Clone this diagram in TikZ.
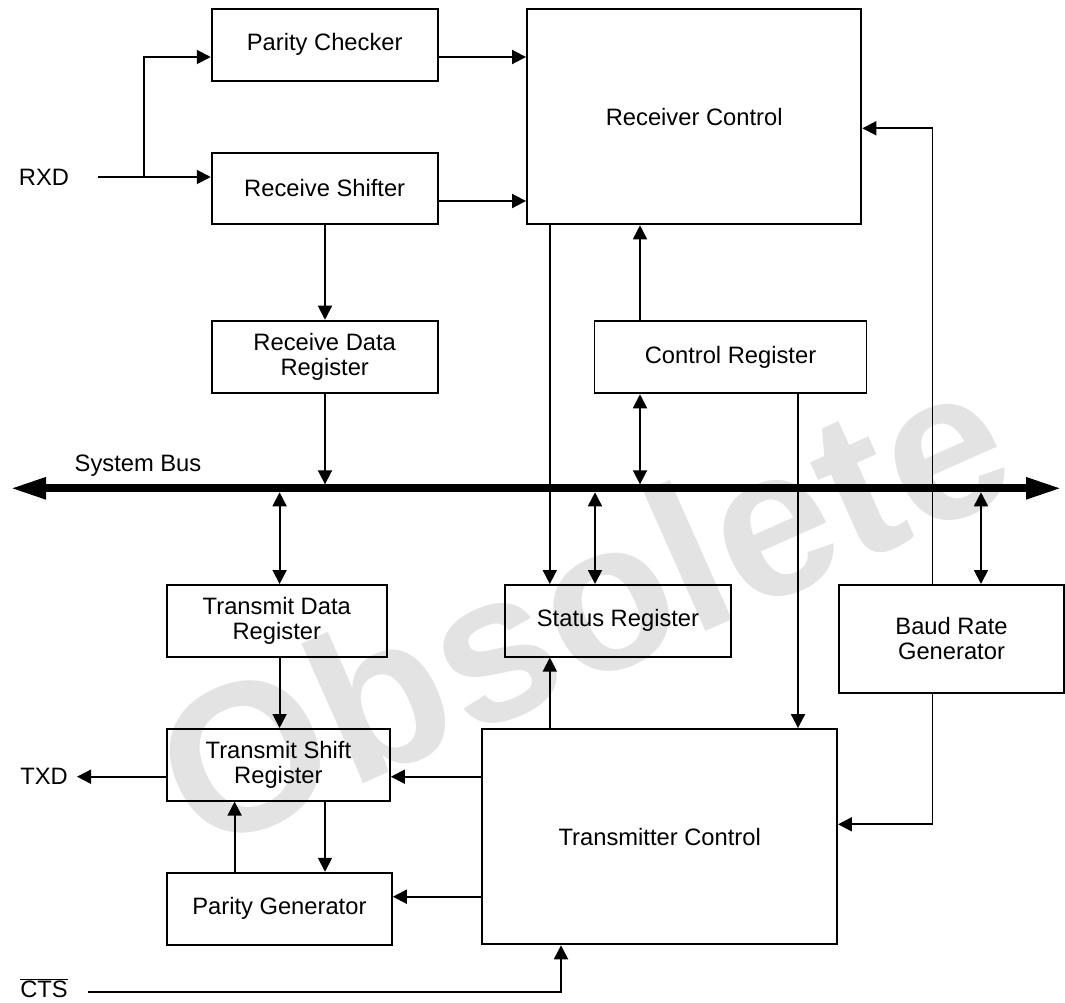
\documentclass[tikz,border=0pt]{standalone}
\usepackage{fontspec}
\setmainfont{Liberation Sans}
\usetikzlibrary{arrows.meta}
\begin{document}
\begin{tikzpicture}[x=0.75pt,y=-0.75pt,
  box/.style={draw, line width=1.4pt, inner sep=0pt, align=center,
    font=\fontsize{17.8}{19}\selectfont},
  lbl/.style={inner sep=0pt, font=\fontsize{17.8}{19}\selectfont},
  tipA/.tip={Triangle[length=10.5pt,width=10.5pt]},
  conn/.style={line width=1.4pt, -tipA},
  bidir/.style={line width=1.4pt, tipA-tipA}]
\useasboundingbox (0,0) rectangle (1065,1003);
% watermark
\node[rotate=24, inner sep=0pt, text=black!11,
  font=\fontsize{158}{158}\selectfont\bfseries] (wm) at (582,604) {Obsolete};
% boxes
\node[box, minimum width=169.5pt, minimum height=53.8pt] (PC) at (324.7,44.8) {Parity Checker};
\node[box, minimum width=169.5pt, minimum height=53.8pt] (RS) at (324.7,188.5) {Receive Shifter};
\node[box, minimum width=169.5pt, minimum height=54.5pt] (RDR) at (324.7,357) {Receive Data\\Register};
\node[box, minimum width=250.8pt, minimum height=161.5pt] (RC) at (694.2,116.7) {Receiver Control};
\node[box, minimum width=204pt, minimum height=54.5pt] (CR) at (730.5,357) {Control Register};
\node[box, minimum width=165pt, minimum height=53.8pt] (TDR) at (276.8,620.8) {Transmit Data\\Register};
\node[box, minimum width=167.3pt, minimum height=53.8pt] (TSR) at (278.4,764.8) {Transmit Shift\\Register};
\node[box, minimum width=168.8pt, minimum height=54pt] (PG) at (279.4,908.7) {Parity Generator};
\node[box, minimum width=169.8pt, minimum height=53.8pt] (SR) at (618,620.8) {Status Register};
\node[box, minimum width=168.5pt, minimum height=80.8pt] (BRG) at (951.5,638.8) {Baud Rate\\Generator};
\node[box, minimum width=266pt, minimum height=161.5pt] (TC) at (659.7,836.7) {Transmitter Control};
% labels
\node[lbl] (rxd) at (44,177) {RXD};
\node[lbl] (txd) at (44,776) {TXD};
\node[lbl] (cts) at (44,988) {$\overline{\hbox{CTS}}$};
\node[lbl] (sysbus) at (138,466) {System Bus};
% helper coordinates
\coordinate (busL) at (10,488.3);
\coordinate (busR) at (1062,488.3);
\coordinate (busT) at (0,484.3);
\coordinate (busB) at (0,492.3);
\coordinate (y57) at (0,57);
\coordinate (y201) at (0,201);
\coordinate (y128) at (0,128.3);
\coordinate (y824) at (0,824.3);
\coordinate (y777) at (0,776.7);
\coordinate (y897) at (0,896.7);
\coordinate (x280) at (279.6,0);
\coordinate (x235) at (234.6,0);
\coordinate (x325) at (325,0);
\coordinate (x550) at (549.8,0);
\coordinate (x595) at (595,0);
\coordinate (x640) at (640,0);
\coordinate (x798) at (798,0);
\coordinate (x932) at (932.5,0);
\coordinate (x981) at (981,0);
\coordinate (x561) at (561,0);
\coordinate (rxdS) at (98,177);
\coordinate (br) at (144,177);
\coordinate (txdE) at (77,776.7);
\coordinate (ctsS) at (87.5,992.3);
% bus
\draw[line width=6pt, {Triangle[length=27pt,width=15pt]}-{Triangle[length=27pt,width=15pt]}] (busL) -- (busR);
% receive side
\draw[conn] (rxdS) -- (RS.west |- rxdS);
\draw[conn] (br) |- (PC.west |- y57);
\draw[conn] (PC.east |- y57) -- (RC.west |- y57);
\draw[conn] (RS.east |- y201) -- (RC.west |- y201);
\draw[conn] (RS.south -| x325) -- (RDR.north -| x325);
\draw[conn] (RDR.south -| x325) -- (x325 |- busT);
% control register
\draw[conn] (CR.north -| x640) -- (RC.south -| x640);
\draw[bidir] (CR.south -| x640) -- (x640 |- busT);
\draw[conn] (CR.south -| x798) -- (TC.north -| x798);
% status register
\draw[conn] (RC.south -| x550) -- (SR.north -| x550);
\draw[bidir] (x595 |- busB) -- (SR.north -| x595);
\draw[conn] (TC.north -| x550) -- (SR.south -| x550);
% baud rate generator
\draw[bidir] (x981 |- busB) -- (BRG.north -| x981);
\draw[conn] (BRG.north -| x932) |- (RC.east |- y128);
\draw[conn] (BRG.south -| x932) |- (TC.east |- y824);
% transmit side
\draw[bidir] (x280 |- busB) -- (TDR.north -| x280);
\draw[conn] (TDR.south -| x280) -- (TSR.north -| x280);
\draw[conn] (TSR.west |- y777) -- (txdE);
\draw[conn] (TC.west |- y777) -- (TSR.east |- y777);
\draw[conn] (PG.north -| x235) -- (TSR.south -| x235);
\draw[conn] (TSR.south -| x325) -- (PG.north -| x325);
\draw[conn] (TC.west |- y897) -- (PG.east |- y897);
\draw[conn] (ctsS) -| (TC.south -| x561);
\end{tikzpicture}
\end{document}
